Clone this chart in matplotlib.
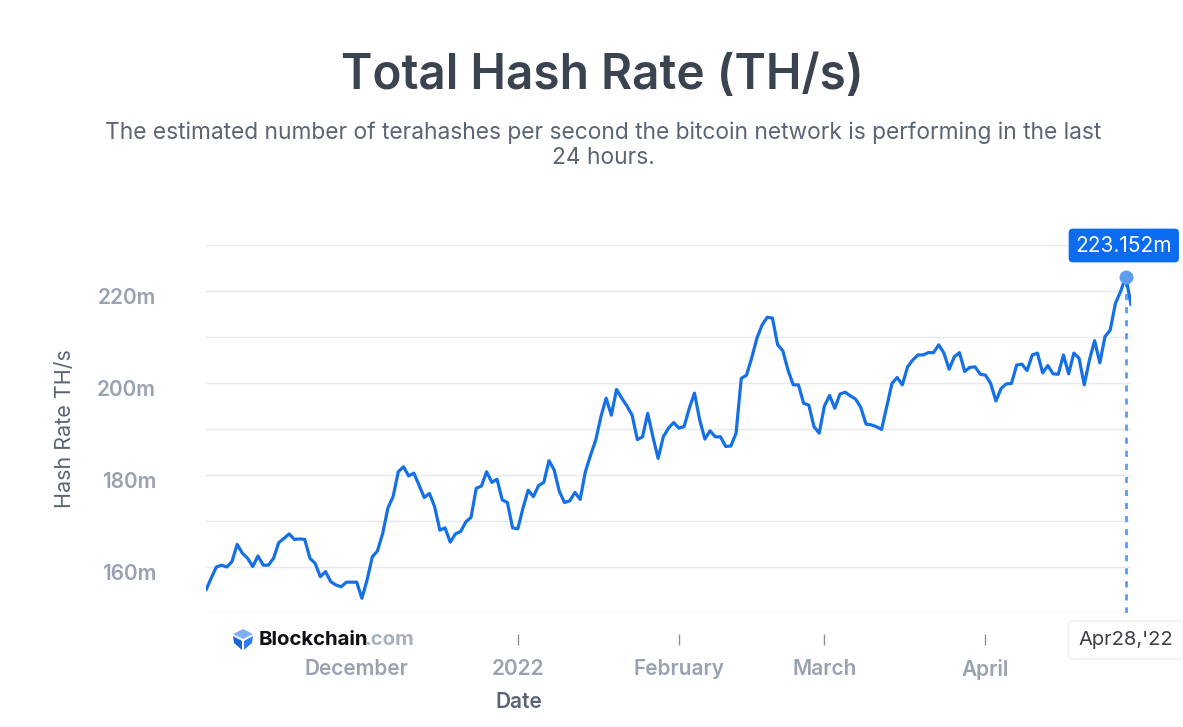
import numpy as np
import pandas as pd
import matplotlib
matplotlib.use("Agg")
import matplotlib.pyplot as plt
from matplotlib.ticker import FixedLocator, FuncFormatter
from matplotlib.transforms import ScaledTranslation
from matplotlib.patches import Polygon

plt.rcParams['font.family'] = ['Inter', 'DejaVu Sans']

# datos (TH/s en millones), uno por dia desde 2021-11-02
start_date = "2021-11-02"
hash_rate_m = [
    155.0, 157.6, 160.0, 160.4, 160.0, 161.2, 164.9, 163.0, 161.9, 160.1,
    162.4, 160.4, 160.4, 161.9, 165.3, 166.2, 167.2, 166.0, 166.1, 166.0,
    161.9, 160.8, 157.9, 159.0, 156.8, 156.1, 155.7, 156.7, 156.7, 156.7,
    153.2, 157.2, 162.2, 163.5, 167.3, 172.8, 175.3, 180.7, 181.8, 179.8,
    180.4, 177.8, 175.1, 176.0, 173.1, 168.0, 168.5, 165.4, 167.2, 167.7,
    169.8, 170.8, 177.1, 177.6, 180.7, 178.4, 179.1, 174.6, 174.0, 168.5,
    168.3, 172.8, 176.7, 175.3, 177.7, 178.4, 183.1, 181.1, 176.4, 174.0,
    174.4, 176.2, 174.7, 180.7, 184.3, 187.6, 192.7, 196.7, 193.0, 198.6,
    196.7, 195.0, 193.0, 187.7, 188.3, 193.4, 188.3, 183.6, 188.3, 190.2,
    191.4, 190.2, 190.5, 194.5, 197.8, 192.0, 187.8, 189.6, 188.3, 188.3,
    186.2, 186.3, 189.1, 201.0, 201.7, 205.4, 209.7, 212.6, 214.3, 214.1,
    208.3, 207.0, 202.8, 199.6, 199.6, 195.6, 195.2, 190.5, 189.1, 195.0,
    197.3, 194.5, 197.6, 198.0, 197.2, 196.5, 194.7, 191.1, 190.9, 190.5,
    189.9, 194.9, 199.9, 201.2, 199.6, 203.5, 205.0, 206.1, 206.1, 206.6,
    206.6, 208.3, 206.5, 203.0, 205.7, 206.6, 202.5, 203.4, 203.5, 201.9,
    201.7, 199.9, 196.1, 198.8, 199.8, 199.9, 203.9, 204.1, 202.7, 206.1,
    206.5, 202.2, 203.8, 202.0, 201.9, 206.1, 202.0, 206.5, 205.4, 199.6,
    205.0, 209.2, 204.4, 210.1, 211.5, 217.3, 219.9, 223.152, 217.0,
]
dates = pd.date_range(start_date, periods=len(hash_rate_m), freq="D")

highlight_date = pd.Timestamp("2022-04-28")
highlight_value = 223.152
highlight_label = "223.152m"
highlight_date_label = "Apr28,'22"

x_tick_dates = ["2021-12-01", "2022-01-01", "2022-02-01", "2022-03-01", "2022-04-01"]
x_tick_labels = ["December", "2022", "February", "March", "April"]
y_ticks = [160, 180, 200, 220]
y_grid = [150, 160, 170, 180, 190, 200, 210, 220, 230]

W, H = 1183, 727
fig = plt.figure(figsize=(W / 100, H / 100), dpi=100)
ax = fig.add_axes([206 / W, 1 - 613 / H, (1131 - 206) / W, (613 - 245) / H])

def px(x, y):
    return (x / W, 1 - y / H)

LINE = '#1570e6'
LIGHT = '#5d9cf0'
TICK_GRAY = '#9aa1b0'
DARK_GRAY = '#5b6576'

# linea principal
ax.plot(dates, hash_rate_m, color=LINE, lw=2.3, solid_joinstyle='round',
        solid_capstyle='round', zorder=3)

ax.set_xlim(dates[0], dates[-1])
ax.set_ylim(y_grid[0], y_grid[-1])

# grilla horizontal cada 10m
ax.yaxis.remove_overlapping_locs = False
ax.yaxis.set_minor_locator(FixedLocator(y_grid))
ax.yaxis.set_major_locator(FixedLocator(y_ticks))
ax.yaxis.set_major_formatter(FuncFormatter(lambda v, p: f"{v:.0f}m"))
ax.grid(True, which='minor', axis='y', color='#e6e9ee', lw=1)
ax.tick_params(axis='y', which='both', length=0, pad=36, labelsize=15,
               labelcolor=TICK_GRAY)
for lab in ax.get_yticklabels():
    lab.set_fontweight('semibold')
    lab.set_transform(lab.get_transform() + ScaledTranslation(0, -0.05, fig.dpi_scale_trans))

for s in ax.spines.values():
    s.set_visible(False)
ax.spines['bottom'].set_position(('outward', 15))

ax.set_xticks(pd.to_datetime(x_tick_dates))
ax.set_xticklabels(x_tick_labels)
ax.tick_params(axis='x', length=8, width=1, color='#8a8f99', pad=10,
               labelsize=15, labelcolor=TICK_GRAY)
for lab in ax.get_xticklabels():
    lab.set_fontweight('semibold')

ax.set_ylabel("Hash Rate TH/s", fontsize=15.5, color=DARK_GRAY, labelpad=16)
ax.set_xlabel("Date", fontsize=15, color=DARK_GRAY, fontweight='semibold', labelpad=9)
ax.xaxis.label.set_x((519 - 206) / (1131 - 206))

# punto destacado y linea vertical
ax.plot([highlight_date, highlight_date], [y_grid[0], highlight_value],
        color=LIGHT, lw=2, ls=(0, (2.2, 2.5)), zorder=2)
ax.plot([highlight_date], [highlight_value], 'o', color=LIGHT, ms=9, zorder=4,
        clip_on=False)
ax.annotate(highlight_label, xy=(highlight_date, highlight_value),
            xytext=(-2, 31), textcoords='offset pixels', ha='center', va='center',
            fontsize=15, color='white',
            bbox=dict(boxstyle='round,pad=0.33,rounding_size=0.2', fc='#0b6cf0', ec='none'),
            annotation_clip=False, zorder=5)
ax.annotate(highlight_date_label, xy=(highlight_date, 0),
            xycoords=('data', 'axes fraction'),
            xytext=(0, -27), textcoords='offset pixels', ha='center', va='center',
            fontsize=14.5, color='#3a3f47',
            bbox=dict(boxstyle='round,pad=0.5,rounding_size=0.2', fc='white', ec='#eceef2'),
            annotation_clip=False, zorder=5)

# titulo y subtitulo
fig.text(*px(602, 76), "Total Hash Rate (TH/s)", ha='center', va='center',
         fontsize=34.4, fontweight='semibold', color='#3c4350')
fig.text(*px(603, 145), "The estimated number of terahashes per second the bitcoin network is performing in the last\n24 hours.",
         ha='center', va='center', fontsize=16.4, color=DARK_GRAY, linespacing=1.2)

# logo Blockchain.com
fig.patches.append(Polygon([px(243, 629), px(253, 634), px(243, 639), px(233, 634)],
                           closed=True, fc='#7fb0f7', ec='none', transform=fig.transFigure))
fig.patches.append(Polygon([px(233, 636), px(242, 641), px(242, 650), px(234, 643)],
                           closed=True, fc='#1c66d8', ec='none', transform=fig.transFigure))
fig.patches.append(Polygon([px(244, 641), px(253, 636), px(252, 643), px(244, 650)],
                           closed=True, fc='#2f7df0', ec='none', transform=fig.transFigure))
t1 = fig.text(*px(259, 640), "Blockchain", ha='left', va='center', fontsize=14.7,
              fontweight='bold', color='#0d0f14')
ax.annotate(".com", xy=(1, 0.5), xycoords=t1, xytext=(-4, 0), textcoords='offset pixels',
            ha='left', va='center', fontsize=14.7, fontweight='bold', color='#a9b0bd',
            annotation_clip=False)

fig.savefig("out.png", dpi=100)
